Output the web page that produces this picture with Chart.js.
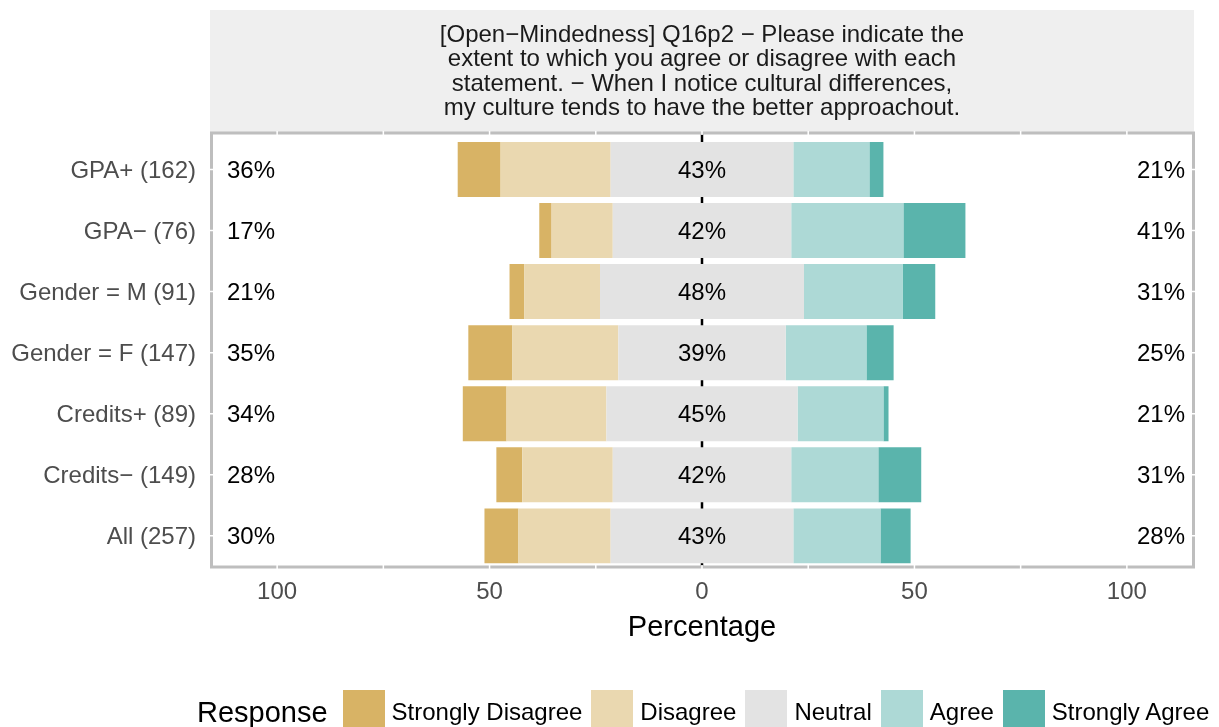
<!DOCTYPE html>
<html>
<head>
<meta charset="utf-8">
<script src="https://cdn.jsdelivr.net/npm/chart.js@4.4.1/dist/chart.umd.min.js"></script>
<style>
  body { margin: 0; background: #fff; font-family: "Liberation Sans", Arial, sans-serif; }
  #wrap { position: relative; width: 1219px; height: 727px; }
  #legend { position: absolute; left: 197px; top: 690px; height: 37px; display: flex; align-items: center; color: #000; }
  #legend .title { font-size: 29px; margin-right: 15px; position: relative; top: 4px; }
  #legend .item { display: flex; align-items: center; margin-right: 9px; font-size: 24px; }
  #legend .item .txt { position: relative; top: 3px; }
  #legend .box { width: 42px; height: 37px; margin-right: 7px; }
</style>
</head>
<body>
<div id="wrap">
  <canvas id="likert" width="1219" height="727"></canvas>
  <div id="legend"></div>
</div>
<script>
const categories = ['GPA+ (162)', 'GPA\u2212 (76)', 'Gender = M (91)', 'Gender = F (147)', 'Credits+ (89)', 'Credits\u2212 (149)', 'All (257)'];
const responses = ['Strongly Disagree', 'Disagree', 'Neutral', 'Agree', 'Strongly Agree'];
const colors = ['#D8B365', '#EAD8B0', '#E3E3E3', '#ADD9D6', '#5AB4AC'];

const stronglyDisagree = [10.1, 2.9, 3.5, 10.3, 10.3, 6.1, 8.0];
const disagree         = [25.9, 14.4, 17.8, 25.0, 23.5, 21.3, 21.7];
const neutral          = [43.0, 42.0, 48.0, 39.4, 45.0, 42.0, 43.0];
const agree            = [17.9, 26.4, 23.2, 19.0, 20.2, 20.5, 20.5];
const stronglyAgree    = [3.3, 14.6, 7.7, 6.4, 1.2, 10.1, 7.1];

const lowLabels     = ['36%', '17%', '21%', '35%', '34%', '28%', '30%'];
const neutralLabels = ['43%', '42%', '48%', '39%', '45%', '42%', '43%'];
const highLabels    = ['21%', '41%', '31%', '25%', '21%', '31%', '28%'];

const xTicks = [-100, -50, 0, 50, 100];
const xNotches = [-100, -75, -50, -25, 0, 25, 50, 75, 100];

const title = [
    '[Open\u2212Mindedness] Q16p2 \u2212 Please indicate the',
    'extent to which you agree or disagree with each',
    'statement. \u2212 When I notice cultural differences,',
    'my culture tends to have the better approachout.'
];

const FONT = '"Liberation Sans", Arial, sans-serif';
const FRAME = '#BEBEBE';

// neutral is split in half around zero, negatives stack outward in dataset order
const half = neutral.map(v => v / 2);
const neg = arr => arr.map(v => -v);

const datasets = [
    { label: 'Neutral', data: neg(half), backgroundColor: colors[2] },
    { label: 'Disagree', data: neg(disagree), backgroundColor: colors[1] },
    { label: 'Strongly Disagree', data: neg(stronglyDisagree), backgroundColor: colors[0] },
    { label: 'Neutral ', data: half, backgroundColor: colors[2] },
    { label: 'Agree', data: agree, backgroundColor: colors[3] },
    { label: 'Strongly Agree', data: stronglyAgree, backgroundColor: colors[4] }
].map(d => ({ ...d, barPercentage: 0.9, categoryPercentage: 1, borderWidth: 0 }));

const panelPlugin = {
    id: 'panel',
    beforeDraw(chart) {
        const { ctx, chartArea } = chart;
        ctx.save();
        ctx.fillStyle = '#EFEFEF';
        ctx.fillRect(chartArea.left, 10, chartArea.right - chartArea.left, 122);
        ctx.restore();
    },
    beforeDatasetsDraw(chart) {
        const { ctx, scales } = chart;
        const x0 = scales.x.getPixelForValue(0);
        ctx.save();
        ctx.strokeStyle = '#000';
        ctx.lineWidth = 2.5;
        ctx.beginPath();
        ctx.moveTo(x0, 133);
        ctx.lineTo(x0, 567);
        ctx.stroke();
        ctx.restore();
    },
    afterDatasetsDraw(chart) {
        const { ctx, chartArea, scales } = chart;
        ctx.save();
        // percentage labels
        ctx.font = '24px ' + FONT;
        ctx.fillStyle = '#000';
        ctx.textBaseline = 'middle';
        categories.forEach((c, i) => {
            const y = scales.y.getPixelForValue(i) + 2;
            ctx.textAlign = 'left';
            ctx.fillText(lowLabels[i], chartArea.left + 17, y);
            ctx.textAlign = 'center';
            ctx.fillText(neutralLabels[i], scales.x.getPixelForValue(0), y);
            ctx.textAlign = 'right';
            ctx.fillText(highLabels[i], chartArea.right - 9, y);
        });
        // frame
        const top = 133, bottom = 567, left = 211.5, right = 1193.5;
        ctx.strokeStyle = FRAME;
        ctx.lineWidth = 3;
        ctx.strokeRect(left, top, right - left, bottom - top);
        // white grid notches through the frame
        ctx.strokeStyle = '#fff';
        ctx.lineWidth = 1.5;
        ctx.beginPath();
        xNotches.forEach(v => {
            const x = scales.x.getPixelForValue(v);
            ctx.moveTo(x, top - 2); ctx.lineTo(x, top + 2);
            ctx.moveTo(x, bottom - 2); ctx.lineTo(x, bottom + 2);
        });
        categories.forEach((c, i) => {
            const y = scales.y.getPixelForValue(i);
            ctx.moveTo(left - 2, y); ctx.lineTo(left + 2, y);
            ctx.moveTo(right - 2, y); ctx.lineTo(right + 2, y);
        });
        ctx.stroke();
        ctx.restore();
    }
};

new Chart(document.getElementById('likert'), {
    type: 'bar',
    data: { labels: categories, datasets },
    plugins: [panelPlugin],
    options: {
        indexAxis: 'y',
        responsive: false,
        animation: false,
        layout: { padding: { top: 10, right: 25, bottom: 82, left: 0 } },
        plugins: {
            legend: { display: false },
            tooltip: { enabled: false },
            title: {
                display: true,
                text: title,
                fullSize: false,
                color: '#1a1a1a',
                font: { family: FONT, size: 24, weight: 'normal', lineHeight: 1.02 },
                padding: { top: 13, bottom: 18 }
            }
        },
        scales: {
            x: {
                stacked: true,
                min: -115.8,
                max: 115.8,
                afterBuildTicks: scale => { scale.ticks = xTicks.map(v => ({ value: v })); },
                grid: { display: false, drawTicks: false },
                border: { display: false },
                ticks: {
                    padding: 12,
                    color: '#4d4d4d',
                    font: { family: FONT, size: 24 },
                    callback: v => Math.abs(v)
                },
                title: {
                    display: true,
                    text: 'Percentage',
                    color: '#000',
                    font: { family: FONT, size: 29 },
                    padding: { top: -9, bottom: 0 }
                }
            },
            y: {
                stacked: true,
                afterFit: scale => { scale.width = 210; },
                grid: { display: false, drawTicks: false },
                border: { display: false },
                ticks: {
                    padding: 14,
                    labelOffset: 2,
                    color: '#4d4d4d',
                    font: { family: FONT, size: 24 }
                }
            }
        }
    }
});

// legend
const legend = document.getElementById('legend');
legend.innerHTML = '<span class="title">Response</span>' + responses.map((r, i) =>
    `<span class="item"><span class="box" style="background:${colors[i]}"></span><span class="txt">${r}</span></span>`
).join('');
</script>
</body>
</html>
